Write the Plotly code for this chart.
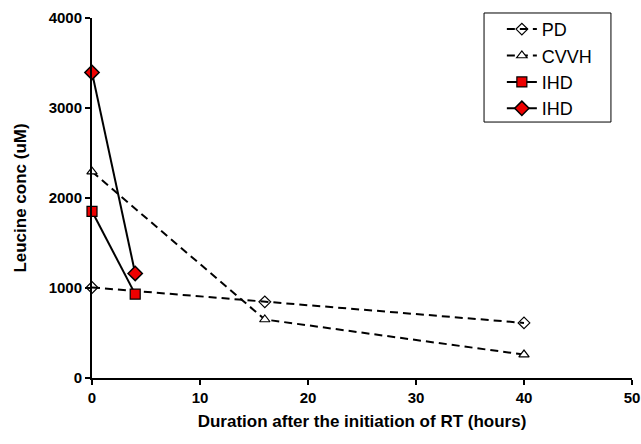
import plotly.graph_objects as go

pd_x = [0, 16, 40]
pd_y = [1006, 846, 612]
cvvh_x = [0, 16, 40]
cvvh_y = [2293, 650, 260]
ihd1_x = [0, 4]
ihd1_y = [1852, 932]
ihd2_x = [0, 4]
ihd2_y = [3395, 1162]

x_ticks = [0, 10, 20, 30, 40, 50]
y_ticks = [0, 1000, 2000, 3000, 4000]

fig = go.Figure()
fig.add_trace(go.Scatter(x=pd_x, y=pd_y, name="PD", mode="lines+markers",
                         line=dict(color="black", width=2, dash="8px,5px"),
                         marker=dict(symbol="diamond-open", size=9, color="black", line=dict(width=1.2)),
                         cliponaxis=False))
fig.add_trace(go.Scatter(x=cvvh_x, y=cvvh_y, name="CVVH", mode="lines+markers",
                         line=dict(color="black", width=2, dash="8px,5px"),
                         marker=dict(symbol="triangle-up", size=9, color="white", line=dict(width=1.2, color="black")),
                         cliponaxis=False))
fig.add_trace(go.Scatter(x=ihd1_x, y=ihd1_y, name="IHD", mode="lines+markers",
                         line=dict(color="black", width=2),
                         marker=dict(symbol="square", size=10, color="#ee0000", line=dict(width=1.2, color="black")),
                         cliponaxis=False))
fig.add_trace(go.Scatter(x=ihd2_x, y=ihd2_y, name="IHD", mode="lines+markers",
                         line=dict(color="black", width=2),
                         marker=dict(symbol="diamond", size=11, color="#ee0000", line=dict(width=1.5, color="black")),
                         cliponaxis=False))

# legend frame
fig.add_shape(type="rect", xref="paper", yref="paper", x0=0.726, x1=0.961, y0=0.711, y1=1.0139,
              line=dict(color="black", width=1), fillcolor="rgba(0,0,0,0)", layer="above")

fig.update_layout(
    width=641, height=444,
    margin=dict(l=92, r=9, t=18, b=66, autoexpand=False),
    plot_bgcolor="white", paper_bgcolor="white",
    font=dict(family="Liberation Sans, Arial, sans-serif", color="black"),
    showlegend=True,
    hovermode=False,
    legend=dict(x=0.759, y=1.0197, xanchor="left", yanchor="top",
                borderwidth=0, bgcolor="rgba(0,0,0,0)",
                font=dict(size=18), itemwidth=30),
    xaxis=dict(range=[0, 50], tickvals=x_ticks, showgrid=False, zeroline=False,
               showline=True, linecolor="black", linewidth=2, automargin=False,
               ticks="outside", ticklen=5, tickwidth=2, tickcolor="black",
               tickfont=dict(size=15, weight="bold"),
               title=dict(text="Duration after the initiation of RT (hours)", standoff=10,
                          font=dict(size=17, weight="bold"))),
    yaxis=dict(range=[0, 4000], tickvals=y_ticks, showgrid=False, zeroline=False,
               showline=True, linecolor="black", linewidth=2, automargin=False,
               ticks="outside", ticklen=5, tickwidth=2, tickcolor="black",
               tickfont=dict(size=15, weight="bold"),
               title=dict(text="Leucine conc (uM)", standoff=18,
                          font=dict(size=17, weight="bold"))),
)

fig.write_html("out.html", config={"displayModeBar": False},
               post_script="document.body.style.margin='0px';document.body.style.overflow='hidden';")
